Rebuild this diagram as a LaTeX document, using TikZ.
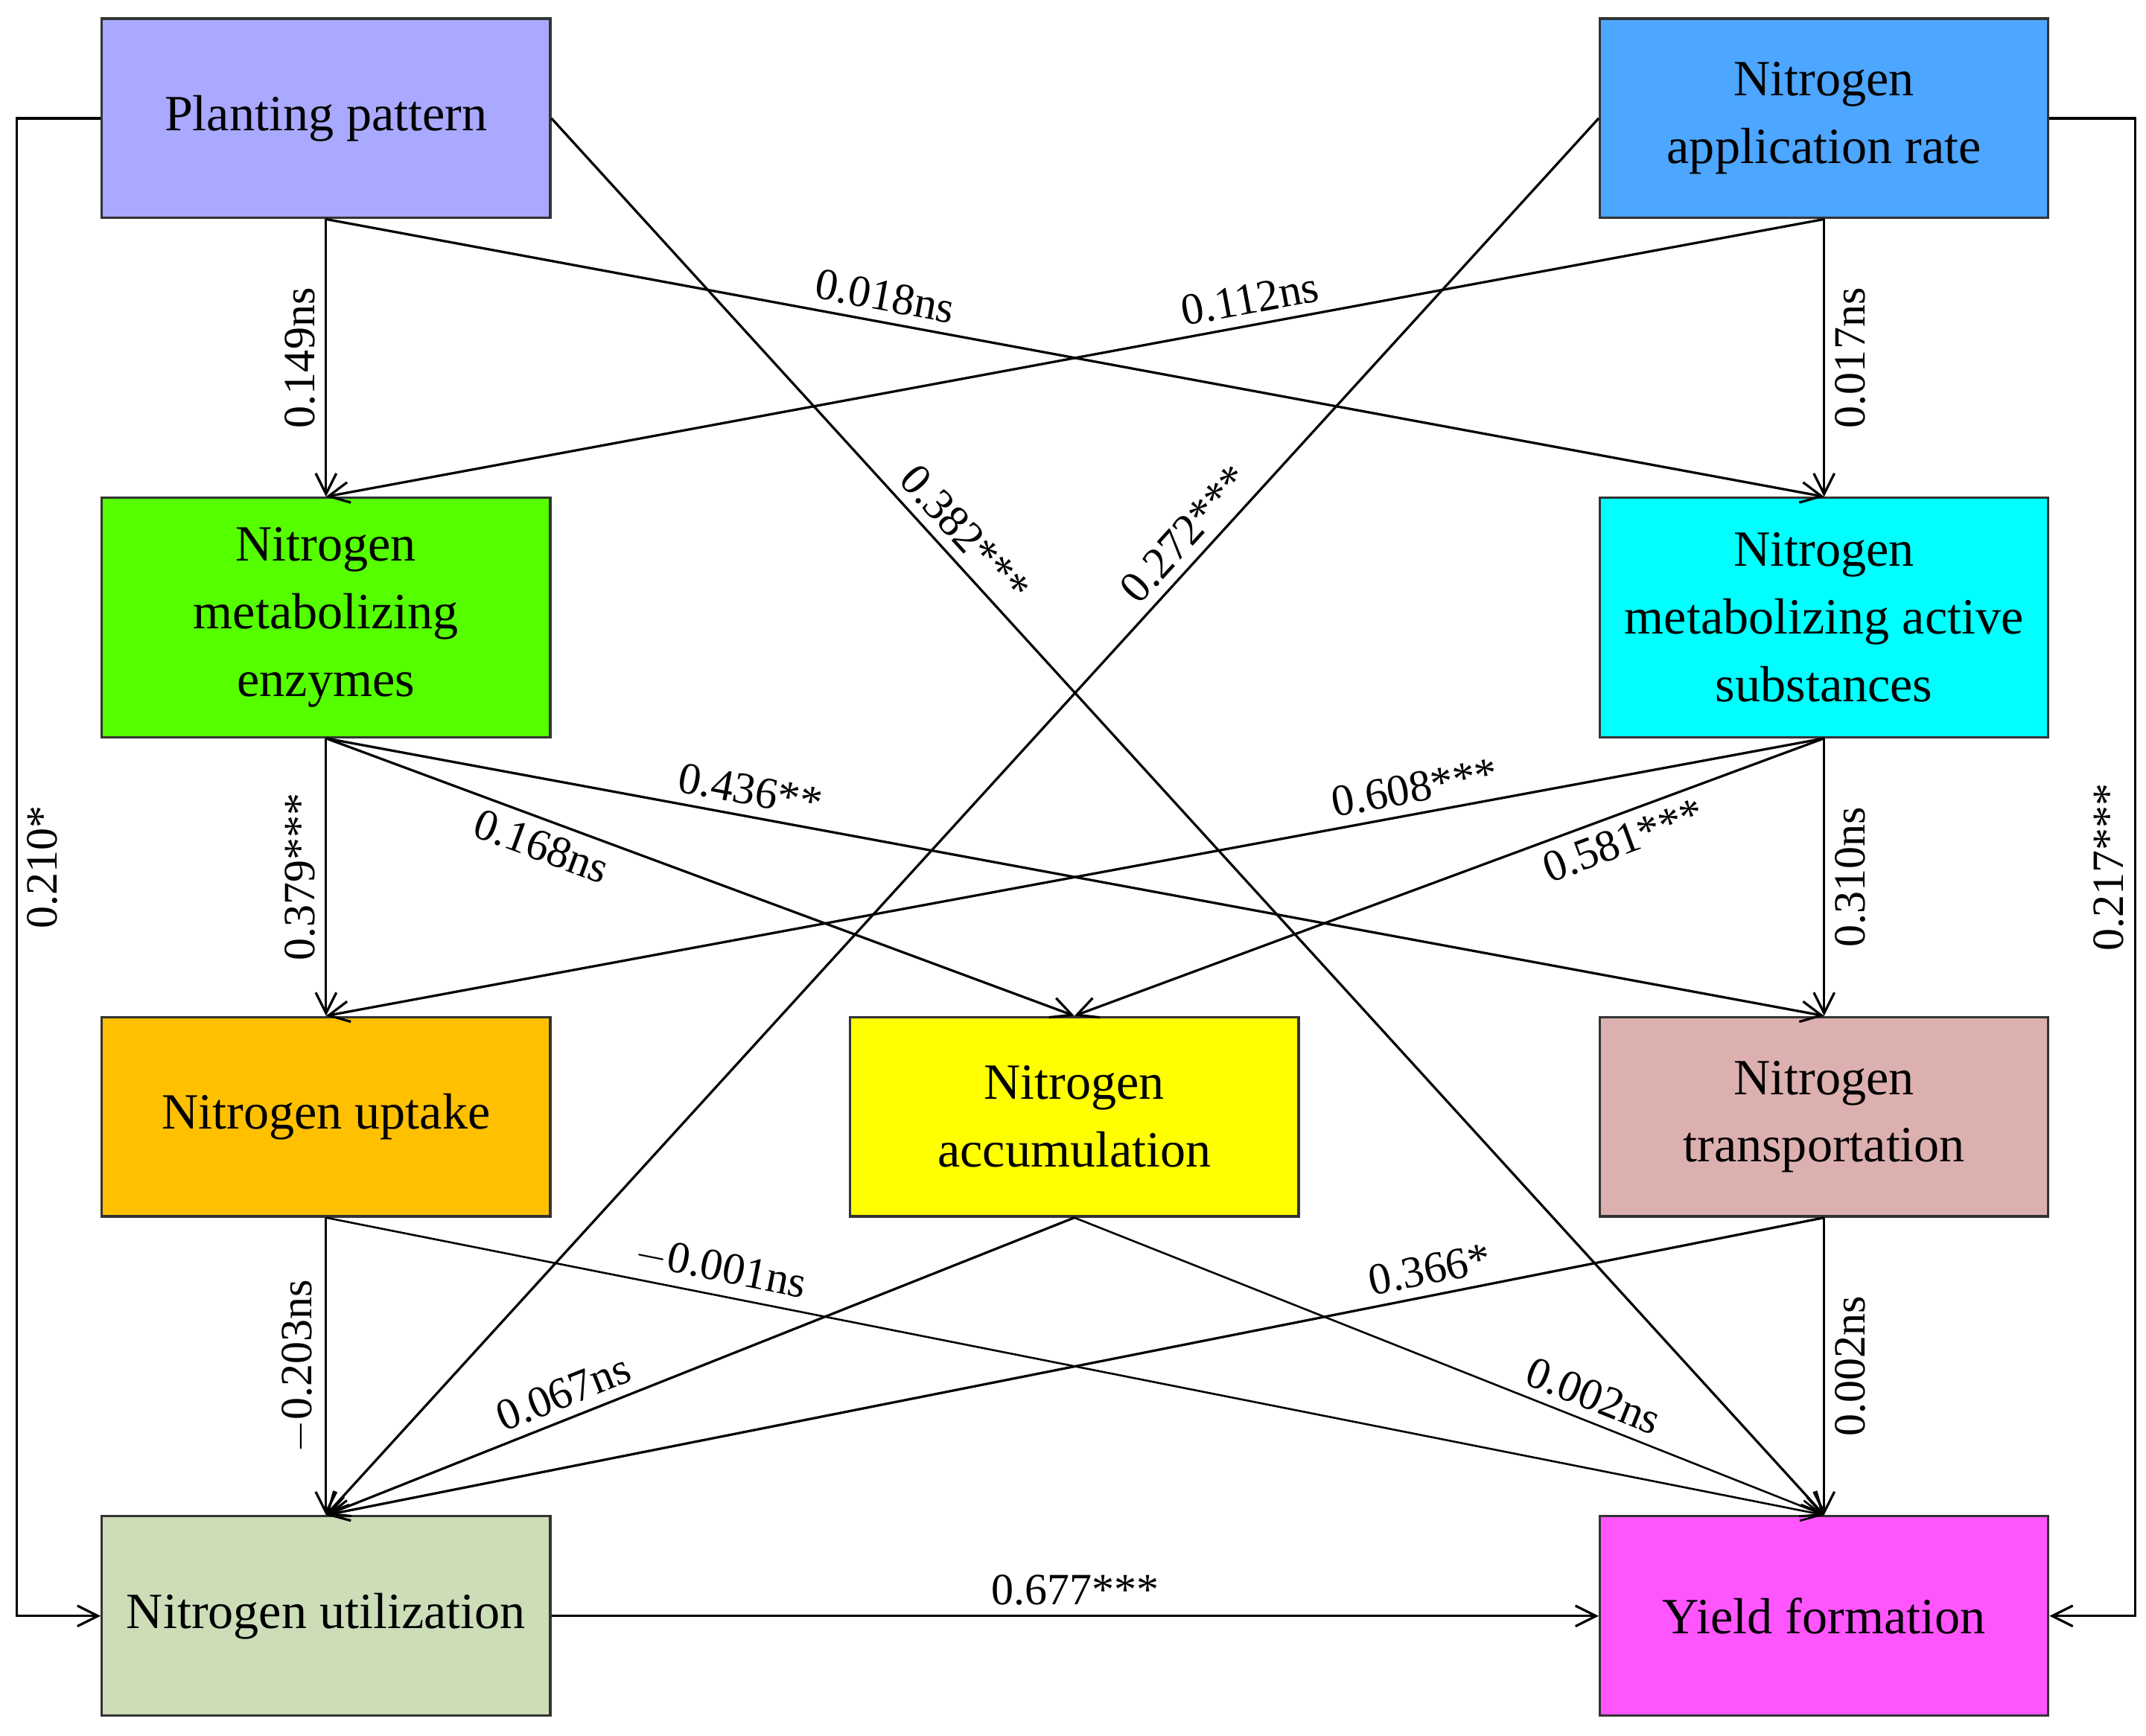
\documentclass[tikz,border=0pt]{standalone}
\usepackage{fontspec}
\setmainfont{Liberation Serif}
\usetikzlibrary{arrows.meta}
\definecolor{cPP}{HTML}{A9A9FF}
\definecolor{cNA}{HTML}{4DA6FF}
\definecolor{cEN}{HTML}{55FF00}
\definecolor{cAS}{HTML}{00FFFF}
\definecolor{cUP}{HTML}{FFC000}
\definecolor{cAC}{HTML}{FFFF00}
\definecolor{cTR}{HTML}{DDB0B0}
\definecolor{cUT}{HTML}{CCDDB8}
\definecolor{cYF}{HTML}{FF55FF}
\begin{document}
\begin{tikzpicture}[x=0.02cm,y=-0.02cm,
  box/.style={draw=black!80,line width=1pt,minimum width=6.52cm,align=center,font=\fontsize{21}{28}\selectfont,inner sep=0pt},
  b3/.style={box,minimum height=2.9cm},
  b4/.style={box,minimum height=3.48cm},
  arr/.style={line width=1pt,-{Straight Barb[length=3mm,width=3mm]}},
  lab/.style={font=\fontsize{18.5}{20}\selectfont,inner sep=4pt},
  vl/.style={lab,rotate=90,anchor=south},
  vr/.style={lab,rotate=90,anchor=north}]
\useasboundingbox (0,0) rectangle (1560,1262);
\node[b3,fill=cPP] (pp) at (237,86) {Planting pattern};
\node[b3,fill=cNA] (na) at (1326,86) {Nitrogen\\application rate};
\node[b4,fill=cEN] (en) at (237,449) {Nitrogen\\metabolizing\\enzymes};
\node[b4,fill=cAS] (as) at (1326,449) {Nitrogen\\metabolizing active\\substances};
\node[b3,fill=cUP] (up) at (237,812) {Nitrogen uptake};
\node[b3,fill=cAC] (ac) at (781,812) {Nitrogen\\accumulation};
\node[b3,fill=cTR] (tr) at (1326,812) {Nitrogen\\transportation};
\node[b3,fill=cUT] (ut) at (237,1175) {Nitrogen utilization};
\node[b3,fill=cYF] (yf) at (1326,1175) {Yield formation};

\draw[arr] (pp.south) -- node[vl,midway]{0.149ns} (en.north);
\draw[arr] (pp.south) -- node[lab,sloped,above,pos=0.37]{0.018ns} (as.north);
\draw[arr] (na.south) -- node[lab,sloped,above,pos=0.38]{0.112ns} (en.north);
\draw[arr] (na.south) -- node[vr,midway]{0.017ns} (as.north);
\draw[arr] (pp.east) -- node[lab,sloped,above,pos=0.31]{0.382***} (yf.north);
\draw[arr] (na.west) -- node[lab,sloped,above,pos=0.31]{0.272***} (ut.north);
\draw[arr] (en.south) -- node[vl,midway]{0.379***} (up.north);
\draw[arr] (en.south) -- node[lab,sloped,below,pos=0.3]{0.168ns} (ac.north);
\draw[arr] (en.south) -- node[lab,sloped,above,pos=0.28]{0.436**} (tr.north);
\draw[arr] (as.south) -- node[lab,sloped,above,pos=0.27]{0.608***} (up.north);
\draw[arr] (as.south) -- node[lab,sloped,below,pos=0.28]{0.581***} (ac.north);
\draw[arr] (as.south) -- node[vr,midway]{0.310ns} (tr.north);
\draw[arr] (up.south) -- node[vl,midway]{$-$0.203ns} (ut.north);
\draw[arr,line width=0.8pt] (up.south) -- node[lab,sloped,above,pos=0.26]{$-$0.001ns} (yf.north);
\draw[arr] (ac.south) -- node[lab,sloped,above,pos=0.67]{0.067ns} (ut.north);
\draw[arr,line width=0.8pt] (ac.south) -- node[lab,sloped,above,pos=0.68]{0.002ns} (yf.north);
\draw[arr] (tr.south) -- node[lab,sloped,above,pos=0.26]{0.366*} (ut.north);
\draw[arr] (tr.south) -- node[vr,midway]{0.002ns} (yf.north);
\draw[arr] (ut.east) -- node[lab,above,midway]{0.677***} (yf.west);
\coordinate (l1) at (12,86); \coordinate (l2) at (12,1175);
\coordinate (r1) at (1552,86); \coordinate (r2) at (1552,1175);
\draw[arr] (pp.west) -- (l1) -- node[vr,midway]{0.210*} (l2) -- (ut.west);
\draw[arr] (na.east) -- (r1) -- node[vl,midway]{0.217***} (r2) -- (yf.east);
\end{tikzpicture}
\end{document}
